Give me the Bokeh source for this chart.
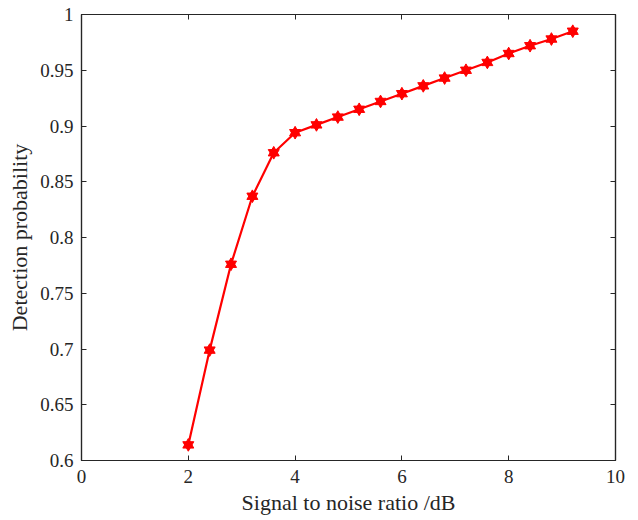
from bokeh.plotting import figure
from bokeh.models import LinearAxis, FixedTicker, Range1d
from bokeh.embed import file_html
from bokeh.resources import INLINE

snr = [2.0, 2.4, 2.8, 3.2, 3.6, 4.0, 4.4, 4.8, 5.2, 5.6, 6.0, 6.4, 6.8, 7.2, 7.6, 8.0, 8.4, 8.8, 9.2]
pd_vals = [0.614, 0.699, 0.776, 0.837, 0.876, 0.894, 0.901, 0.908, 0.915, 0.922, 0.929,
           0.936, 0.943, 0.950, 0.957, 0.965, 0.972, 0.978, 0.985]
x_ticks = [0, 2, 4, 6, 8, 10]
y_ticks = [0.6, 0.65, 0.7, 0.75, 0.8, 0.85, 0.9, 0.95, 1.0]
y_tick_labels = {0.6: "0.6", 0.65: "0.65", 0.7: "0.7", 0.75: "0.75", 0.8: "0.8",
                 0.85: "0.85", 0.9: "0.9", 0.95: "0.95", 1.0: "1"}

FONT = "Liberation Serif"
TXT = "#262626"

p = figure(frame_width=534, frame_height=446, output_backend="svg", toolbar_location=None,
           x_range=Range1d(0, 10), y_range=Range1d(0.6, 1.0))
p.min_border_left = 81
p.min_border_top = 14
p.min_border_right = 15
p.min_border_bottom = 52
p.grid.visible = False
p.outline_line_color = TXT
p.outline_line_width = 1.2
p.background_fill_color = "white"
p.border_fill_color = "white"

p.line(snr, pd_vals, line_color="#ff0000", line_width=2.2)
p.scatter(snr, pd_vals, marker="triangle", size=11, fill_color="#ff0000", line_color="#ff0000")
p.scatter(snr, pd_vals, marker="inverted_triangle", size=11, fill_color="#ff0000", line_color="#ff0000")

def style(ax, labels=True):
    ax.axis_line_color = TXT
    ax.axis_line_width = 1.2
    ax.major_tick_in = 5
    ax.major_tick_out = 0
    ax.minor_tick_in = 0
    ax.minor_tick_out = 0
    ax.major_tick_line_color = TXT
    ax.major_label_text_font = FONT
    ax.major_label_text_font_size = "19px"
    ax.major_label_text_color = TXT
    ax.axis_label_text_font = FONT
    ax.axis_label_text_font_size = "22px"
    ax.axis_label_text_font_style = "normal"
    ax.axis_label_text_color = TXT
    if not labels:
        ax.major_label_text_font_size = "0px"
        ax.major_label_text_alpha = 0

xa = p.xaxis[0]
xa.ticker = FixedTicker(ticks=x_ticks)
xa.axis_label = "Signal to noise ratio /dB"
style(xa)
xa.major_label_standoff = 9
xa.axis_label_standoff = 4

ya = p.yaxis[0]
ya.ticker = FixedTicker(ticks=y_ticks)
ya.major_label_overrides = y_tick_labels
ya.axis_label = "Detection probability"
style(ya)
ya.major_label_standoff = 8
ya.axis_label_standoff = 5

top = LinearAxis(ticker=FixedTicker(ticks=x_ticks))
style(top, labels=False)
p.add_layout(top, "above")
right = LinearAxis(ticker=FixedTicker(ticks=y_ticks))
style(right, labels=False)
p.add_layout(right, "right")

open("out.html", "w").write(file_html(p, INLINE))
